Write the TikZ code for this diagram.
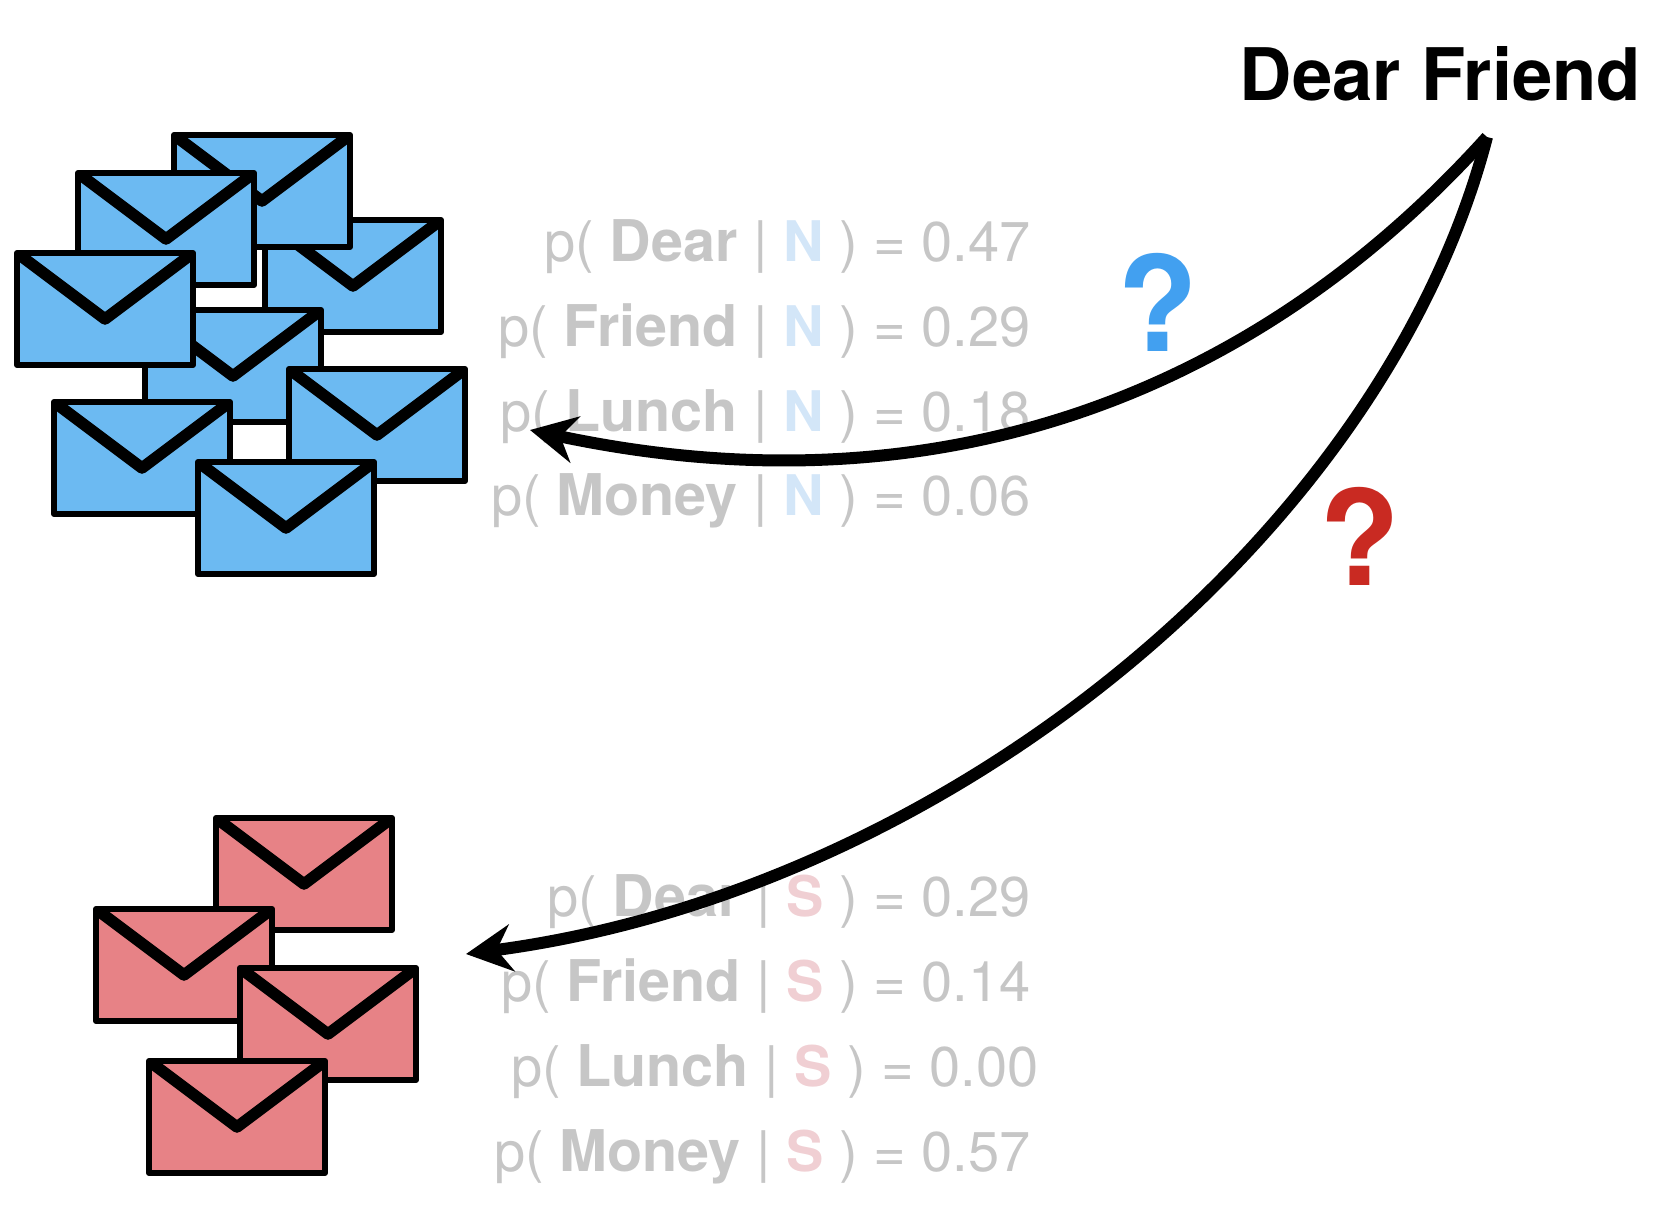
\documentclass[tikz,border=0pt]{standalone}
\usepackage{fontspec}
\setmainfont{TeX Gyre Heros}
\usetikzlibrary{arrows.meta}
\definecolor{envblue}{HTML}{6CBAF2}
\definecolor{envred}{HTML}{E78286}
\definecolor{fadetext}{HTML}{C6C6C6}
\definecolor{fadeblue}{HTML}{D3E6F8}
\definecolor{fadered}{HTML}{F0CFD3}
\definecolor{qblue}{HTML}{42A0F0}
\definecolor{qred}{HTML}{C92A22}
\tikzset{
  probtext/.style={anchor=base east,inner sep=0pt,text=fadetext,font=\fontsize{56}{60}\selectfont},
  qmark/.style={anchor=base,inner sep=0pt,font=\fontsize{132}{140}\selectfont\bfseries},
  curvearrow/.style={line width=12pt,-{Stealth[length=46pt,width=47pt,inset=15pt]}},
}
% left, top, colour
\newcommand{\envelopeat}[3]{%
  \begin{scope}[shift={(#1,#2)}]
    \fill[#3] (0,0) rectangle (176,112);
    \begin{scope}
      \clip (0,0) rectangle (176,112);
      \draw[line width=11.5pt,line join=round] (0,0) -- (88,66) -- (176,0);
    \end{scope}
    \draw[line width=6pt,line join=round] (0,0) rectangle (176,112);
  \end{scope}}
\newcommand{\boldword}[1]{\textbf{\fontsize{57.5}{60}\selectfont #1}}
\newcommand{\probN}[1]{p( \boldword{#1} | \textbf{\textcolor{fadeblue}{N}} )}
\newcommand{\probS}[1]{p( \boldword{#1} | \textbf{\textcolor{fadered}{S}} )}
\begin{document}
\begin{tikzpicture}[x=1pt,y=-1pt]
\useasboundingbox (0,0) rectangle (1673,1219);
% blue pile
\envelopeat{265}{220}{envblue}
\envelopeat{174}{135}{envblue}
\envelopeat{78}{173}{envblue}
\envelopeat{145}{310}{envblue}
\envelopeat{17}{253}{envblue}
\envelopeat{289}{369}{envblue}
\envelopeat{54}{402}{envblue}
\envelopeat{198}{462}{envblue}
% red pile
\envelopeat{216}{818}{envred}
\envelopeat{96}{909}{envred}
\envelopeat{240}{968}{envred}
\envelopeat{149}{1061}{envred}
% probabilities
\node[probtext] (n1) at (1031,261) {\probN{Dear} = 0.47};
\node[probtext] (n2) at (1031,346) {\probN{Friend} = 0.29};
\node[probtext] (n3) at (1031,431) {\probN{Lunch} = 0.18};
\node[probtext] (n4) at (1031,515) {\probN{Money} = 0.06};
\node[probtext] (s1) at (1031,916) {\probS{Dear} = 0.29};
\node[probtext] (s2) at (1031,1001) {\probS{Friend} = 0.14};
\node[probtext] (s3) at (1039,1086) {\probS{Lunch} = 0.00};
\node[probtext] (s4) at (1031,1171) {\probS{Money} = 0.57};
% title and question marks
\node[anchor=base,inner sep=0pt,font=\fontsize{72.5}{76}\selectfont\bfseries] (title) at (1440.5,100) {Dear Friend};
\node[qmark,text=qblue] (qn) at (1157.5,351) {?};
\node[qmark,text=qred] (qs) at (1359.5,585) {?};
% connectors
\coordinate (apex) at (1487,137);
\coordinate (tipN) at (530,430);
\coordinate (tipS) at (466,954);
\draw[curvearrow] (apex) .. controls (1250,400) and (930,515) .. (tipN);
\draw[curvearrow] (apex) .. controls (1385,530) and (950,890) .. (tipS);
\end{tikzpicture}
\end{document}
